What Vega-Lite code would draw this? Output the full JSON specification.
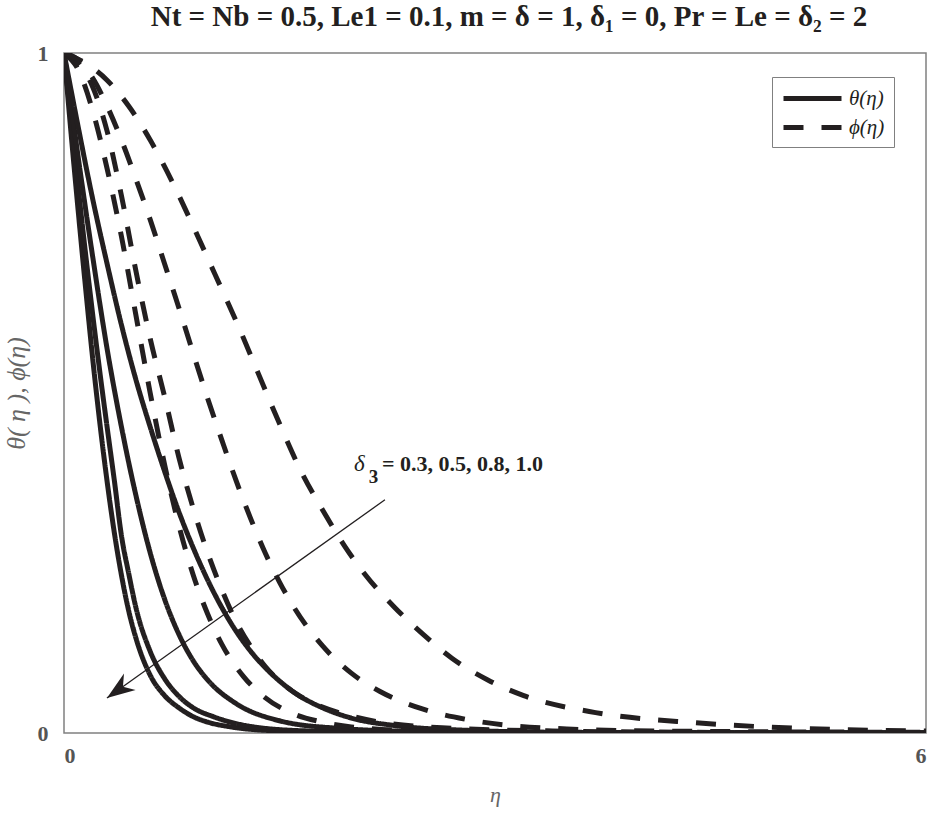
{
  "$schema": "https://vega.github.io/schema/vega-lite/v6.json",
  "autosize": "none",
  "width": 862,
  "height": 680,
  "padding": {"left": 64, "top": 53, "right": 10, "bottom": 84},
  "title": {
    "text": "Nt = Nb = 0.5, Le1 = 0.1, m =  δ = 1, δ₁ = 0, Pr = Le =  δ₂ = 2",
    "font": "Liberation Serif",
    "fontSize": 29,
    "fontWeight": "bold",
    "color": "#231f20",
    "offset": 10,
    "dx": 14
  },
  "datasets": {
    "curves": [
      {"curve": "S1", "kind": "θ(η)", "eta": 0, "v": 1},
      {"curve": "S1", "kind": "θ(η)", "eta": 0.05, "v": 0.88},
      {"curve": "S1", "kind": "θ(η)", "eta": 0.1, "v": 0.765},
      {"curve": "S1", "kind": "θ(η)", "eta": 0.15, "v": 0.655},
      {"curve": "S1", "kind": "θ(η)", "eta": 0.2, "v": 0.55},
      {"curve": "S1", "kind": "θ(η)", "eta": 0.25, "v": 0.455},
      {"curve": "S1", "kind": "θ(η)", "eta": 0.3, "v": 0.37},
      {"curve": "S1", "kind": "θ(η)", "eta": 0.35, "v": 0.295},
      {"curve": "S1", "kind": "θ(η)", "eta": 0.4, "v": 0.232},
      {"curve": "S1", "kind": "θ(η)", "eta": 0.45, "v": 0.18},
      {"curve": "S1", "kind": "θ(η)", "eta": 0.5, "v": 0.14},
      {"curve": "S1", "kind": "θ(η)", "eta": 0.6, "v": 0.085},
      {"curve": "S1", "kind": "θ(η)", "eta": 0.7, "v": 0.055},
      {"curve": "S1", "kind": "θ(η)", "eta": 0.8, "v": 0.037},
      {"curve": "S1", "kind": "θ(η)", "eta": 0.9, "v": 0.024},
      {"curve": "S1", "kind": "θ(η)", "eta": 1.0, "v": 0.016},
      {"curve": "S1", "kind": "θ(η)", "eta": 1.16, "v": 0.009},
      {"curve": "S1", "kind": "θ(η)", "eta": 1.5, "v": 0.003},
      {"curve": "S1", "kind": "θ(η)", "eta": 2, "v": 0.001},
      {"curve": "S1", "kind": "θ(η)", "eta": 3, "v": 0},
      {"curve": "S1", "kind": "θ(η)", "eta": 6, "v": 0},
      {"curve": "S2", "kind": "θ(η)", "eta": 0, "v": 1},
      {"curve": "S2", "kind": "θ(η)", "eta": 0.05, "v": 0.9},
      {"curve": "S2", "kind": "θ(η)", "eta": 0.1, "v": 0.8},
      {"curve": "S2", "kind": "θ(η)", "eta": 0.15, "v": 0.705},
      {"curve": "S2", "kind": "θ(η)", "eta": 0.2, "v": 0.615},
      {"curve": "S2", "kind": "θ(η)", "eta": 0.25, "v": 0.53},
      {"curve": "S2", "kind": "θ(η)", "eta": 0.3, "v": 0.45},
      {"curve": "S2", "kind": "θ(η)", "eta": 0.35, "v": 0.372},
      {"curve": "S2", "kind": "θ(η)", "eta": 0.4, "v": 0.29},
      {"curve": "S2", "kind": "θ(η)", "eta": 0.45, "v": 0.235},
      {"curve": "S2", "kind": "θ(η)", "eta": 0.5, "v": 0.185},
      {"curve": "S2", "kind": "θ(η)", "eta": 0.6, "v": 0.12},
      {"curve": "S2", "kind": "θ(η)", "eta": 0.7, "v": 0.08},
      {"curve": "S2", "kind": "θ(η)", "eta": 0.8, "v": 0.054},
      {"curve": "S2", "kind": "θ(η)", "eta": 0.9, "v": 0.037},
      {"curve": "S2", "kind": "θ(η)", "eta": 1.04, "v": 0.024},
      {"curve": "S2", "kind": "θ(η)", "eta": 1.32, "v": 0.009},
      {"curve": "S2", "kind": "θ(η)", "eta": 1.7, "v": 0.003},
      {"curve": "S2", "kind": "θ(η)", "eta": 2.3, "v": 0.001},
      {"curve": "S2", "kind": "θ(η)", "eta": 3, "v": 0},
      {"curve": "S2", "kind": "θ(η)", "eta": 6, "v": 0},
      {"curve": "S3", "kind": "θ(η)", "eta": 0, "v": 1},
      {"curve": "S3", "kind": "θ(η)", "eta": 0.1, "v": 0.845},
      {"curve": "S3", "kind": "θ(η)", "eta": 0.2, "v": 0.7},
      {"curve": "S3", "kind": "θ(η)", "eta": 0.3, "v": 0.565},
      {"curve": "S3", "kind": "θ(η)", "eta": 0.4, "v": 0.45},
      {"curve": "S3", "kind": "θ(η)", "eta": 0.5, "v": 0.35},
      {"curve": "S3", "kind": "θ(η)", "eta": 0.6, "v": 0.265},
      {"curve": "S3", "kind": "θ(η)", "eta": 0.7, "v": 0.197},
      {"curve": "S3", "kind": "θ(η)", "eta": 0.8, "v": 0.145},
      {"curve": "S3", "kind": "θ(η)", "eta": 0.9, "v": 0.106},
      {"curve": "S3", "kind": "θ(η)", "eta": 1.0, "v": 0.078},
      {"curve": "S3", "kind": "θ(η)", "eta": 1.2, "v": 0.043},
      {"curve": "S3", "kind": "θ(η)", "eta": 1.5, "v": 0.018},
      {"curve": "S3", "kind": "θ(η)", "eta": 1.9, "v": 0.007},
      {"curve": "S3", "kind": "θ(η)", "eta": 2.5, "v": 0.002},
      {"curve": "S3", "kind": "θ(η)", "eta": 3.5, "v": 0},
      {"curve": "S3", "kind": "θ(η)", "eta": 6, "v": 0},
      {"curve": "S4", "kind": "θ(η)", "eta": 0, "v": 1},
      {"curve": "S4", "kind": "θ(η)", "eta": 0.1, "v": 0.89},
      {"curve": "S4", "kind": "θ(η)", "eta": 0.2, "v": 0.785},
      {"curve": "S4", "kind": "θ(η)", "eta": 0.3, "v": 0.69},
      {"curve": "S4", "kind": "θ(η)", "eta": 0.4, "v": 0.6},
      {"curve": "S4", "kind": "θ(η)", "eta": 0.5, "v": 0.52},
      {"curve": "S4", "kind": "θ(η)", "eta": 0.6, "v": 0.45},
      {"curve": "S4", "kind": "θ(η)", "eta": 0.7, "v": 0.385},
      {"curve": "S4", "kind": "θ(η)", "eta": 0.8, "v": 0.325},
      {"curve": "S4", "kind": "θ(η)", "eta": 0.9, "v": 0.272},
      {"curve": "S4", "kind": "θ(η)", "eta": 1.0, "v": 0.225},
      {"curve": "S4", "kind": "θ(η)", "eta": 1.1, "v": 0.184},
      {"curve": "S4", "kind": "θ(η)", "eta": 1.2, "v": 0.149},
      {"curve": "S4", "kind": "θ(η)", "eta": 1.3, "v": 0.12},
      {"curve": "S4", "kind": "θ(η)", "eta": 1.45, "v": 0.086},
      {"curve": "S4", "kind": "θ(η)", "eta": 1.6, "v": 0.06},
      {"curve": "S4", "kind": "θ(η)", "eta": 1.8, "v": 0.037},
      {"curve": "S4", "kind": "θ(η)", "eta": 2.0, "v": 0.022},
      {"curve": "S4", "kind": "θ(η)", "eta": 2.3, "v": 0.011},
      {"curve": "S4", "kind": "θ(η)", "eta": 2.8, "v": 0.004},
      {"curve": "S4", "kind": "θ(η)", "eta": 3.5, "v": 0.001},
      {"curve": "S4", "kind": "θ(η)", "eta": 6, "v": 0},
      {"curve": "DA", "kind": "ϕ(η)", "eta": 0, "v": 1},
      {"curve": "DA", "kind": "ϕ(η)", "eta": 0.1, "v": 0.975},
      {"curve": "DA", "kind": "ϕ(η)", "eta": 0.2, "v": 0.915},
      {"curve": "DA", "kind": "ϕ(η)", "eta": 0.3, "v": 0.83},
      {"curve": "DA", "kind": "ϕ(η)", "eta": 0.4, "v": 0.73},
      {"curve": "DA", "kind": "ϕ(η)", "eta": 0.5, "v": 0.615},
      {"curve": "DA", "kind": "ϕ(η)", "eta": 0.6, "v": 0.5},
      {"curve": "DA", "kind": "ϕ(η)", "eta": 0.7, "v": 0.395},
      {"curve": "DA", "kind": "ϕ(η)", "eta": 0.8, "v": 0.305},
      {"curve": "DA", "kind": "ϕ(η)", "eta": 0.9, "v": 0.232},
      {"curve": "DA", "kind": "ϕ(η)", "eta": 1.0, "v": 0.175},
      {"curve": "DA", "kind": "ϕ(η)", "eta": 1.1, "v": 0.13},
      {"curve": "DA", "kind": "ϕ(η)", "eta": 1.25, "v": 0.083},
      {"curve": "DA", "kind": "ϕ(η)", "eta": 1.4, "v": 0.052},
      {"curve": "DA", "kind": "ϕ(η)", "eta": 1.6, "v": 0.028},
      {"curve": "DA", "kind": "ϕ(η)", "eta": 1.8, "v": 0.016},
      {"curve": "DA", "kind": "ϕ(η)", "eta": 2.0, "v": 0.009},
      {"curve": "DA", "kind": "ϕ(η)", "eta": 2.5, "v": 0.003},
      {"curve": "DA", "kind": "ϕ(η)", "eta": 3.4, "v": 0.001},
      {"curve": "DA", "kind": "ϕ(η)", "eta": 6, "v": 0},
      {"curve": "DB", "kind": "ϕ(η)", "eta": 0, "v": 1},
      {"curve": "DB", "kind": "ϕ(η)", "eta": 0.1, "v": 0.985},
      {"curve": "DB", "kind": "ϕ(η)", "eta": 0.2, "v": 0.95},
      {"curve": "DB", "kind": "ϕ(η)", "eta": 0.3, "v": 0.885},
      {"curve": "DB", "kind": "ϕ(η)", "eta": 0.4, "v": 0.79},
      {"curve": "DB", "kind": "ϕ(η)", "eta": 0.5, "v": 0.68},
      {"curve": "DB", "kind": "ϕ(η)", "eta": 0.6, "v": 0.58},
      {"curve": "DB", "kind": "ϕ(η)", "eta": 0.7, "v": 0.495},
      {"curve": "DB", "kind": "ϕ(η)", "eta": 0.8, "v": 0.405},
      {"curve": "DB", "kind": "ϕ(η)", "eta": 0.9, "v": 0.33},
      {"curve": "DB", "kind": "ϕ(η)", "eta": 1.0, "v": 0.265},
      {"curve": "DB", "kind": "ϕ(η)", "eta": 1.1, "v": 0.21},
      {"curve": "DB", "kind": "ϕ(η)", "eta": 1.2, "v": 0.163},
      {"curve": "DB", "kind": "ϕ(η)", "eta": 1.3, "v": 0.127},
      {"curve": "DB", "kind": "ϕ(η)", "eta": 1.4, "v": 0.098},
      {"curve": "DB", "kind": "ϕ(η)", "eta": 1.6, "v": 0.06},
      {"curve": "DB", "kind": "ϕ(η)", "eta": 1.8, "v": 0.038},
      {"curve": "DB", "kind": "ϕ(η)", "eta": 2.0, "v": 0.025},
      {"curve": "DB", "kind": "ϕ(η)", "eta": 2.2, "v": 0.016},
      {"curve": "DB", "kind": "ϕ(η)", "eta": 2.7, "v": 0.007},
      {"curve": "DB", "kind": "ϕ(η)", "eta": 3.4, "v": 0.003},
      {"curve": "DB", "kind": "ϕ(η)", "eta": 4.4, "v": 0.001},
      {"curve": "DB", "kind": "ϕ(η)", "eta": 6, "v": 0},
      {"curve": "DC", "kind": "ϕ(η)", "eta": 0, "v": 1},
      {"curve": "DC", "kind": "ϕ(η)", "eta": 0.1, "v": 0.99},
      {"curve": "DC", "kind": "ϕ(η)", "eta": 0.2, "v": 0.963},
      {"curve": "DC", "kind": "ϕ(η)", "eta": 0.3, "v": 0.922},
      {"curve": "DC", "kind": "ϕ(η)", "eta": 0.4, "v": 0.872},
      {"curve": "DC", "kind": "ϕ(η)", "eta": 0.5, "v": 0.815},
      {"curve": "DC", "kind": "ϕ(η)", "eta": 0.6, "v": 0.755},
      {"curve": "DC", "kind": "ϕ(η)", "eta": 0.7, "v": 0.69},
      {"curve": "DC", "kind": "ϕ(η)", "eta": 0.8, "v": 0.625},
      {"curve": "DC", "kind": "ϕ(η)", "eta": 0.9, "v": 0.558},
      {"curve": "DC", "kind": "ϕ(η)", "eta": 1.0, "v": 0.492},
      {"curve": "DC", "kind": "ϕ(η)", "eta": 1.1, "v": 0.43},
      {"curve": "DC", "kind": "ϕ(η)", "eta": 1.2, "v": 0.37},
      {"curve": "DC", "kind": "ϕ(η)", "eta": 1.3, "v": 0.315},
      {"curve": "DC", "kind": "ϕ(η)", "eta": 1.4, "v": 0.265},
      {"curve": "DC", "kind": "ϕ(η)", "eta": 1.5, "v": 0.222},
      {"curve": "DC", "kind": "ϕ(η)", "eta": 1.6, "v": 0.185},
      {"curve": "DC", "kind": "ϕ(η)", "eta": 1.8, "v": 0.128},
      {"curve": "DC", "kind": "ϕ(η)", "eta": 2.0, "v": 0.088},
      {"curve": "DC", "kind": "ϕ(η)", "eta": 2.2, "v": 0.061},
      {"curve": "DC", "kind": "ϕ(η)", "eta": 2.5, "v": 0.035},
      {"curve": "DC", "kind": "ϕ(η)", "eta": 2.8, "v": 0.02},
      {"curve": "DC", "kind": "ϕ(η)", "eta": 3.1, "v": 0.011},
      {"curve": "DC", "kind": "ϕ(η)", "eta": 3.5, "v": 0.006},
      {"curve": "DC", "kind": "ϕ(η)", "eta": 4.1, "v": 0.003},
      {"curve": "DC", "kind": "ϕ(η)", "eta": 6, "v": 0.001},
      {"curve": "DD", "kind": "ϕ(η)", "eta": 0, "v": 1},
      {"curve": "DD", "kind": "ϕ(η)", "eta": 0.15, "v": 0.985},
      {"curve": "DD", "kind": "ϕ(η)", "eta": 0.3, "v": 0.96},
      {"curve": "DD", "kind": "ϕ(η)", "eta": 0.45, "v": 0.922},
      {"curve": "DD", "kind": "ϕ(η)", "eta": 0.6, "v": 0.872},
      {"curve": "DD", "kind": "ϕ(η)", "eta": 0.75, "v": 0.812},
      {"curve": "DD", "kind": "ϕ(η)", "eta": 0.9, "v": 0.745},
      {"curve": "DD", "kind": "ϕ(η)", "eta": 1.05, "v": 0.675},
      {"curve": "DD", "kind": "ϕ(η)", "eta": 1.2, "v": 0.605},
      {"curve": "DD", "kind": "ϕ(η)", "eta": 1.35, "v": 0.53},
      {"curve": "DD", "kind": "ϕ(η)", "eta": 1.5, "v": 0.455},
      {"curve": "DD", "kind": "ϕ(η)", "eta": 1.65, "v": 0.385},
      {"curve": "DD", "kind": "ϕ(η)", "eta": 1.8, "v": 0.328},
      {"curve": "DD", "kind": "ϕ(η)", "eta": 1.95, "v": 0.276},
      {"curve": "DD", "kind": "ϕ(η)", "eta": 2.1, "v": 0.232},
      {"curve": "DD", "kind": "ϕ(η)", "eta": 2.3, "v": 0.185},
      {"curve": "DD", "kind": "ϕ(η)", "eta": 2.5, "v": 0.145},
      {"curve": "DD", "kind": "ϕ(η)", "eta": 2.7, "v": 0.11},
      {"curve": "DD", "kind": "ϕ(η)", "eta": 2.95, "v": 0.078},
      {"curve": "DD", "kind": "ϕ(η)", "eta": 3.2, "v": 0.055},
      {"curve": "DD", "kind": "ϕ(η)", "eta": 3.7, "v": 0.03},
      {"curve": "DD", "kind": "ϕ(η)", "eta": 4.4, "v": 0.015},
      {"curve": "DD", "kind": "ϕ(η)", "eta": 5.1, "v": 0.007},
      {"curve": "DD", "kind": "ϕ(η)", "eta": 6, "v": 0.003}
    ],
    "arrow": [
      {"eta": 2.234, "v": 0.343},
      {"eta": 0.299, "v": 0.0515}
    ],
    "head": [
      {"eta": 0.299, "v": 0.0515}
    ],
    "notes": [
      {"part": "delta", "eta": 2.018, "v": 0.385, "text": "δ"},
      {"part": "sub", "eta": 2.122, "v": 0.367, "text": "3"},
      {"part": "values", "eta": 2.213, "v": 0.385, "text": "= 0.3, 0.5, 0.8, 1.0"}
    ]
  },
  "layer": [
    {
      "data": {"name": "curves"},
      "mark": {"type": "line", "strokeWidth": 5, "color": "#231f20", "interpolate": "monotone", "clip": true},
      "encoding": {
        "x": {"field": "eta", "type": "quantitative", "scale": {"domain": [0, 6], "nice": false},
              "axis": {"values": [0, 6], "format": "d", "title": "η", "labelPadding": 12, "titlePadding": 18}},
        "y": {"field": "v", "type": "quantitative", "scale": {"domain": [0, 1], "nice": false},
              "axis": {"values": [0, 1], "format": "d", "title": "θ( η ), ϕ(η)", "labelPadding": 16, "titlePadding": 8, "titleFontSize": 26}},
        "detail": {"field": "curve"},
        "strokeDash": {
          "field": "kind", "type": "nominal",
          "scale": {"domain": ["θ(η)", "ϕ(η)"], "range": [[1, 0], [20, 18]]},
          "legend": {
            "title": null,
            "orient": "none",
            "legendX": 708,
            "legendY": 24,
            "symbolType": "M-2.9,0H2.9",
            "symbolSize": 400,
            "symbolOffset": 19,
            "symbolStrokeWidth": 5,
            "symbolStrokeColor": "#231f20",
            "labelFont": "Liberation Serif",
            "labelFontStyle": "italic",
            "labelFontSize": 21,
            "labelColor": "#231f20",
            "labelOffset": 24,
            "strokeColor": "#808080",
            "fillColor": "white",
            "padding": 9,
            "rowPadding": 6
          }
        }
      }
    },
    {
      "data": {"name": "arrow"},
      "mark": {"type": "line", "strokeWidth": 1.3, "color": "#231f20"},
      "encoding": {
        "x": {"field": "eta", "type": "quantitative"},
        "y": {"field": "v", "type": "quantitative"}
      }
    },
    {
      "data": {"name": "head"},
      "mark": {"type": "point", "shape": "M0,0L0.36,1L0,0.7L-0.36,1Z", "filled": true, "opacity": 1,
               "color": "#231f20", "size": 3136, "angle": 234.7},
      "encoding": {
        "x": {"field": "eta", "type": "quantitative"},
        "y": {"field": "v", "type": "quantitative"}
      }
    },
    {
      "data": {"name": "notes"},
      "transform": [{"filter": "datum.part === 'delta'"}],
      "mark": {"type": "text", "align": "left", "baseline": "alphabetic", "font": "Liberation Serif",
               "fontStyle": "italic", "fontSize": 23, "color": "#231f20"},
      "encoding": {
        "x": {"field": "eta", "type": "quantitative"},
        "y": {"field": "v", "type": "quantitative"},
        "text": {"field": "text"}
      }
    },
    {
      "data": {"name": "notes"},
      "transform": [{"filter": "datum.part === 'sub'"}],
      "mark": {"type": "text", "align": "left", "baseline": "alphabetic", "font": "Liberation Serif",
               "fontWeight": "bold", "fontSize": 19, "color": "#231f20"},
      "encoding": {
        "x": {"field": "eta", "type": "quantitative"},
        "y": {"field": "v", "type": "quantitative"},
        "text": {"field": "text"}
      }
    },
    {
      "data": {"name": "notes"},
      "transform": [{"filter": "datum.part === 'values'"}],
      "mark": {"type": "text", "align": "left", "baseline": "alphabetic", "font": "Liberation Serif",
               "fontWeight": "bold", "fontSize": 22, "color": "#231f20"},
      "encoding": {
        "x": {"field": "eta", "type": "quantitative"},
        "y": {"field": "v", "type": "quantitative"},
        "text": {"field": "text"}
      }
    }
  ],
  "config": {
    "view": {"stroke": "#808080", "strokeWidth": 1.5},
    "axis": {
      "domain": false,
      "ticks": false,
      "grid": false,
      "labelFont": "Liberation Serif",
      "labelFontWeight": "bold",
      "labelFontSize": 22,
      "labelColor": "#555555",
      "titleFont": "Liberation Serif",
      "titleFontStyle": "italic",
      "titleFontWeight": "normal",
      "titleFontSize": 22,
      "titleColor": "#666666"
    }
  }
}
